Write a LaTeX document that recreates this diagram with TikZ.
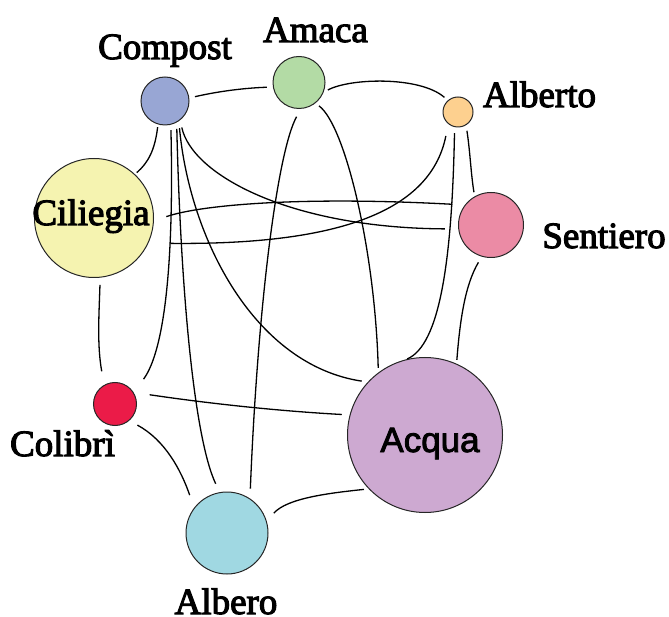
\documentclass[tikz,border=0pt]{standalone}
\usepackage{fontspec}
\setmainfont{Liberation Serif}
\newfontfamily\lblfont{Liberation Serif}[FakeBold=3]
\newfontfamily\acquafont{Liberation Sans}[FakeBold=2.5]
\definecolor{cCompost}{HTML}{98A6D4}
\definecolor{cAmaca}{HTML}{B3DBA5}
\definecolor{cAlberto}{HTML}{FDD08F}
\definecolor{cSentiero}{HTML}{EB8BA5}
\definecolor{cCiliegia}{HTML}{F5F3B0}
\definecolor{cColibri}{HTML}{EB1B48}
\definecolor{cAcqua}{HTML}{CDA9D1}
\definecolor{cAlbero}{HTML}{A0D8E2}
\begin{document}
\begin{tikzpicture}[x=1pt,y=-1pt,
  vtx/.style={circle, draw=black!85, line width=1pt, inner sep=0pt, outer sep=0pt},
  lbl/.style={font=\lblfont\fontsize{37}{40}\selectfont, inner sep=0pt, anchor=base},
  edge/.style={draw=black, line width=1.3pt}]
\useasboundingbox (0,0) rectangle (669,617);
% vertices
\node[vtx, fill=cCompost,  minimum size=48pt]  (cp) at (165,101) {};
\node[vtx, fill=cAmaca,    minimum size=52pt]  (am) at (299,82.5) {};
\node[vtx, fill=cAlberto,  minimum size=30pt]  (al) at (458,112) {};
\node[vtx, fill=cSentiero, minimum size=65pt]  (se) at (491,225) {};
\node[vtx, fill=cCiliegia, minimum size=119pt] (ci) at (94,218) {};
\node[vtx, fill=cColibri,  minimum size=43pt]  (cb) at (115,404) {};
\node[vtx, fill=cAcqua,    minimum size=155pt] (ac) at (425,435) {};
\node[vtx, fill=cAlbero,   minimum size=82pt]  (ab) at (227,533) {};
% labels
\node[lbl] (lcp) at (165,59) {Compost};
\node[lbl] (lam) at (315.5,42) {Amaca};
\node[lbl] (lal) at (539.5,107) {Alberto};
\node[lbl] (lse) at (604,248) {Sentiero};
\node[lbl] (lci) at (91,225) {Ciliegia};
\node[lbl] (lcb) at (62.5,456) {Colibrì};
\node[lbl] (lab) at (226,614) {Albero};
\node[lbl, font=\acquafont\fontsize{35}{38}\selectfont] (lac) at (430,452) {Acqua};
% edges
\draw[edge, shorten <=6.3pt, shorten >=6.5pt] (cp.7.6) .. controls (220,91) and (245,88) .. (am.-170);
\draw[edge, shorten <=5.6pt, shorten >=5pt] (am.-23.3) .. controls (350,78) and (420,76) .. (al.131);
\draw[edge, shorten <=3.2pt, shorten >=2.8pt] (cp.-107) .. controls (155,150) and (148,163) .. (ci.47.6);
\draw[edge, shorten <=7.8pt, shorten >=14.3pt] (ci.-84.9) .. controls (99,315) and (97,345) .. (cb.120.1);
\draw[edge, shorten <=9.7pt, shorten >=14pt] (cb.-50.2) .. controls (165,440) and (181,470) .. (ab.143.1);
\draw[edge, shorten <=11.2pt, shorten >=5.3pt] (ab.16.7) .. controls (287,498) and (330,493) .. (ac.-136.5);
\draw[edge, shorten <=7.1pt, shorten >=4.4pt] (se.-106.1) .. controls (465,285) and (460,320) .. (ac.66.3);
\draw[edge, shorten <=6.1pt, shorten >=4.7pt] (al.-58.6) .. controls (470,150) and (471,175) .. (se.120.7);
\draw[edge, shorten <=6.6pt, shorten >=3.8pt] (al.-103.4) .. controls (452,260) and (440,345) .. (ac.106.4);
\draw[edge, shorten <=12.7pt, shorten >=22.4pt] (al.-130.6) .. controls (430,215) and (330,245) .. (ci.-25.3);
\draw[edge, shorten <=13.7pt, shorten >=13.1pt] (ci.-3.9) .. controls (200,205) and (300,196) .. (se.142.1);
\draw[edge, shorten <=8pt, shorten >=13.8pt] (cp.-51.3) .. controls (192,175) and (290,228) .. (se.-173.8);
\draw[edge, shorten <=7.6pt, shorten >=6.7pt] (cp.-55.3) .. controls (190,240) and (255,365) .. (ac.137.4);
\draw[edge, shorten <=5.8pt, shorten >=17.1pt] (cp.-76.4) .. controls (174,260) and (165,350) .. (cb.31.2);
\draw[edge, shorten <=6.9pt, shorten >=9.8pt] (cp.-61) .. controls (181,300) and (195,440) .. (ab.100.2);
\draw[edge, shorten <=9.6pt, shorten >=10.3pt] (am.-85.2) .. controls (278,150) and (258,300) .. (ab.56.9);
\draw[edge, shorten <=5pt, shorten >=5.3pt] (am.-52.2) .. controls (345,125) and (375,250) .. (ac.127.1);
\draw[edge, shorten <=16.8pt, shorten >=8.4pt] (cb.33.3) .. controls (185,400) and (260,410) .. (ac.165.2);
\end{tikzpicture}
\end{document}
